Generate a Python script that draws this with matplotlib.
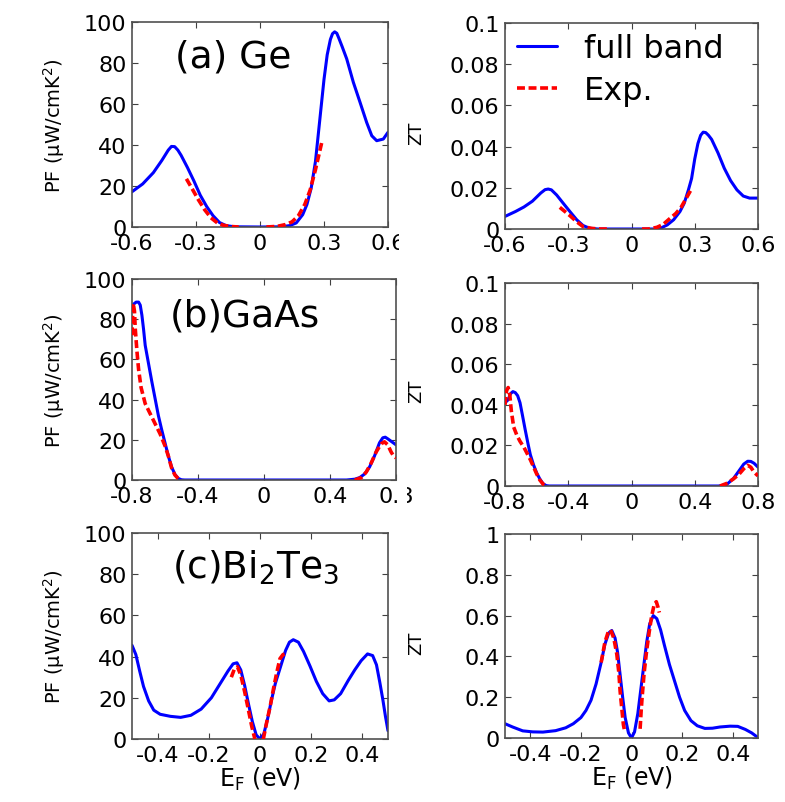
import numpy as np
import matplotlib
matplotlib.use("Agg")
import matplotlib.pyplot as plt
from matplotlib.patches import Rectangle

plt.rcParams['font.family'] = ['DejaVu Sans']
plt.rcParams['mathtext.default'] = 'regular'
plt.rcParams['axes.unicode_minus'] = False

# ---------------- data ----------------
# (a) Ge  PF
ge_pf_x = [-0.60, -0.55, -0.50, -0.46, -0.43, -0.415, -0.40, -0.385, -0.37, -0.34, -0.31, -0.28, -0.25, -0.22,
           -0.19, -0.16, -0.12, 0.00, 0.10, 0.14, 0.17, 0.20, 0.22, 0.24, 0.26, 0.28, 0.30, 0.315, 0.33,
           0.34, 0.35, 0.36, 0.37, 0.385, 0.4065, 0.4375, 0.469, 0.50, 0.524, 0.547, 0.578, 0.60]
ge_pf_y = [17.2, 21, 26.5, 32.5, 37.5, 39.3, 39.2, 37.5, 35, 29, 22.5, 15.5, 10, 5.5,
           2.2, 0.7, 0.1, 0, 0.1, 0.7, 2, 6, 11, 19, 32, 52, 72, 84, 91.5,
           94.3, 95.2, 94.5, 92, 88, 82, 70.6, 60.8, 51, 44.5, 42.1, 42.9, 46.2]
ge_pf_exp_p_x = [-0.345, -0.32, -0.29, -0.26, -0.23, -0.20, -0.17, -0.13, -0.10]
ge_pf_exp_p_y = [23.5, 19, 13.5, 8.5, 4.5, 2, 0.8, 0.2, 0]
ge_pf_exp_n_x = [0.03, 0.08, 0.12, 0.15, 0.18, 0.21, 0.235, 0.26, 0.29]
ge_pf_exp_n_y = [0, 0.3, 1.2, 2.5, 5.5, 11, 18, 28, 41.5]

# (a) Ge  ZT
ge_zt_x = [-0.60, -0.55, -0.51, -0.47, -0.43, -0.41, -0.395, -0.38, -0.355, -0.32, -0.29, -0.26, -0.23, -0.20,
           -0.16, 0.11, 0.14, 0.17, 0.20, 0.23, 0.25, 0.27, 0.285, 0.30, 0.315, 0.328, 0.34, 0.352, 0.365,
           0.38, 0.41, 0.44, 0.47, 0.50, 0.53, 0.56, 0.60]
ge_zt_y = [0.0061, 0.0085, 0.0107, 0.0135, 0.0175, 0.0191, 0.0194, 0.019, 0.0165, 0.012, 0.0082, 0.0045, 0.0017, 0.0004,
           0, 0, 0.0005, 0.002, 0.0045, 0.0085, 0.0125, 0.019, 0.0245, 0.034, 0.0415, 0.0455, 0.047, 0.0468, 0.0455,
           0.0435, 0.037, 0.0295, 0.0235, 0.019, 0.016, 0.015, 0.015]
ge_zt_exp_p_x = [-0.34, -0.31, -0.29, -0.26, -0.23, -0.19, -0.15, -0.10]
ge_zt_exp_p_y = [0.0105, 0.008, 0.0063, 0.0035, 0.0012, 0.0003, 0, 0]
ge_zt_exp_n_x = [0.05, 0.08, 0.12, 0.15, 0.18, 0.21, 0.235, 0.26, 0.285]
ge_zt_exp_n_y = [0, 0, 0.0008, 0.0022, 0.0049, 0.0075, 0.0105, 0.015, 0.0195]

# (b) GaAs PF
gaas_pf_x = [-0.80, -0.79, -0.775, -0.76, -0.75, -0.74, -0.73, -0.72, -0.70, -0.68, -0.66, -0.64, -0.62,
             -0.60, -0.58, -0.56, -0.54, -0.52, -0.50, -0.48, 0.50, 0.55, 0.58, 0.61, 0.64, 0.67, 0.70,
             0.72, 0.735, 0.75, 0.775, 0.80]
gaas_pf_y = [84, 87.5, 88.5, 88.5, 87, 82, 75, 67, 58, 49, 40.5, 32, 25,
             18.5, 12, 6.5, 2.8, 0.8, 0.1, 0, 0, 0.4, 1.2, 3, 6.5, 12, 18.5,
             21, 21.3, 20.5, 19, 17.5]
gaas_pf_exp_p_x = [-0.80, -0.797, -0.793, -0.785, -0.78, -0.77, -0.76, -0.745, -0.72, -0.69, -0.66, -0.63,
                   -0.60, -0.58, -0.56, -0.54, -0.52, -0.50]
gaas_pf_exp_p_y = [72, 80, 88, 84, 75, 64, 55, 46, 38, 33, 28, 23, 17, 12, 6, 2.5, 0.7, 0]
gaas_pf_exp_n_x = [0.55, 0.59, 0.62, 0.65, 0.68, 0.71, 0.73, 0.75, 0.77, 0.785, 0.80]
gaas_pf_exp_n_y = [0, 1.2, 4, 8.5, 14, 18, 19, 17.5, 14, 12, 11]

# (b) GaAs ZT
gaas_zt_x = [-0.80, -0.78, -0.765, -0.75, -0.735, -0.72, -0.705, -0.69, -0.673, -0.655, -0.64, -0.62, -0.60,
             -0.58, -0.56, -0.54, -0.52, 0.55, 0.60, 0.645, 0.68, 0.71, 0.735, 0.755, 0.775, 0.80]
gaas_zt_y = [0.041, 0.0425, 0.0455, 0.0465, 0.046, 0.0445, 0.041, 0.035, 0.028, 0.021, 0.0155, 0.0105, 0.0065,
             0.0035, 0.0012, 0.0002, 0, 0, 0.0006, 0.0037, 0.0075, 0.0108, 0.0122, 0.0121, 0.0112, 0.0093]
gaas_zt_exp_p_x = [-0.80, -0.79, -0.78, -0.77, -0.76, -0.745, -0.725, -0.705, -0.68, -0.66, -0.64, -0.62,
                   -0.60, -0.58, -0.56, -0.54]
gaas_zt_exp_p_y = [0.040, 0.047, 0.0485, 0.045, 0.037, 0.029, 0.025, 0.022, 0.019, 0.016, 0.013, 0.0095,
                   0.006, 0.003, 0.001, 0]
gaas_zt_exp_n_x = [0.56, 0.60, 0.645, 0.68, 0.71, 0.735, 0.755, 0.775, 0.80]
gaas_zt_exp_n_y = [0, 0.0012, 0.0035, 0.0058, 0.0085, 0.0102, 0.0092, 0.0068, 0.005]

# (c) Bi2Te3 PF
bite_pf_x = [-0.50, -0.485, -0.47, -0.455, -0.435, -0.415, -0.39, -0.35, -0.31, -0.27, -0.23, -0.19, -0.155,
             -0.125, -0.105, -0.09, -0.075, -0.06, -0.045, -0.03, -0.015, 0.0, 0.015, 0.03, 0.045, 0.06,
             0.08, 0.10, 0.115, 0.13, 0.15, 0.17, 0.195, 0.22, 0.245, 0.27, 0.29, 0.315, 0.345, 0.37,
             0.395, 0.42, 0.44, 0.455, 0.468, 0.48, 0.49, 0.50]
bite_pf_y = [45.5, 41, 33, 25.5, 18.5, 14, 12, 11, 10.5, 11.5, 14.5, 20, 27,
             33, 36.5, 37, 33.5, 26, 17, 8.5, 2, 0, 2.5, 10, 19, 27,
             35, 43, 47, 48.2, 47, 42.5, 35.5, 28, 22, 18.5, 19, 22, 28.5, 33.5,
             38, 41.3, 40.5, 36, 27.5, 19, 11, 4]
bite_pf_exp_p_x = [-0.112, -0.10, -0.088, -0.075, -0.06, -0.045, -0.032, -0.025, -0.02]
bite_pf_exp_p_y = [30, 34, 35, 31, 23, 14, 6, 2.5, 0]
bite_pf_exp_n_x = [0.013, 0.026, 0.04, 0.052, 0.065, 0.078, 0.09, 0.104]
bite_pf_exp_n_y = [0, 8, 16, 24, 32, 39, 41, 41.5]

# (c) Bi2Te3 ZT
bite_zt_x = [-0.50, -0.47, -0.43, -0.39, -0.35, -0.30, -0.26, -0.23, -0.20, -0.18, -0.16, -0.14, -0.12,
             -0.105, -0.09, -0.078, -0.065, -0.055, -0.045, -0.035, -0.025, -0.012, 0.0, 0.012, 0.025,
             0.035, 0.048, 0.06, 0.072, 0.086, 0.10, 0.115, 0.13, 0.15, 0.17, 0.19, 0.21, 0.235, 0.26,
             0.29, 0.32, 0.35, 0.39, 0.42, 0.45, 0.475, 0.50]
bite_zt_y = [0.07, 0.054, 0.035, 0.03, 0.029, 0.036, 0.05, 0.07, 0.1, 0.135, 0.185, 0.265, 0.37,
             0.46, 0.515, 0.527, 0.49, 0.42, 0.31, 0.2, 0.1, 0.025, 0, 0.03, 0.12,
             0.22, 0.35, 0.47, 0.56, 0.60, 0.585, 0.53, 0.455, 0.36, 0.28, 0.2, 0.135, 0.085, 0.06,
             0.047, 0.048, 0.054, 0.058, 0.057, 0.042, 0.025, 0.002]
bite_zt_exp_p_x = [-0.12, -0.105, -0.092, -0.083, -0.07, -0.058, -0.05, -0.045, -0.038, -0.032, -0.028]
bite_zt_exp_p_y = [0.37, 0.47, 0.52, 0.53, 0.49, 0.41, 0.32, 0.23, 0.14, 0.065, 0.04]
bite_zt_exp_n_x = [0.034, 0.038, 0.042, 0.05, 0.06, 0.07, 0.08, 0.09, 0.098, 0.105, 0.11]
bite_zt_exp_n_y = [0.045, 0.13, 0.2, 0.32, 0.43, 0.52, 0.6, 0.655, 0.668, 0.64, 0.615]

# ticks / labels
ge_xticks = [-0.6, -0.3, 0, 0.3, 0.6]
ge_xticklabels = ['-0.6', '-0.3', '0', '0.3', '0.6']
gaas_xticks = [-0.8, -0.4, 0, 0.4, 0.8]
gaas_xticklabels = ['-0.8', '-0.4', '0', '0.4', '0.8']
bite_xticks = [-0.4, -0.2, 0, 0.2, 0.4]
bite_xticklabels = ['-0.4', '-0.2', '0', '0.2', '0.4']
pf_yticks = [0, 20, 40, 60, 80, 100]
pf_yticklabels = ['0', '20', '40', '60', '80', '100']
zt_small_yticks = [0, 0.02, 0.04, 0.06, 0.08, 0.1]
zt_small_yticklabels = ['0', '0.02', '0.04', '0.06', '0.08', '0.1']
zt_big_yticks = [0, 0.2, 0.4, 0.6, 0.8, 1]
zt_big_yticklabels = ['0', '0.2', '0.4', '0.6', '0.8', '1']

series_labels = ['full band', 'Exp.']
panel_titles = ['(a) Ge', '(b)GaAs', '(c)Bi$_2$Te$_3$']

# ---------------- figure ----------------
W, H = 785, 803
fig = plt.figure(figsize=(W / 100, H / 100), dpi=100)


def rect(l, t, r, b):
    return [l / W, 1 - b / H, (r - l) / W, (b - t) / H]


BLUE = '#0000ff'
RED = '#ff0000'
DASH = (0, (2.2, 1.0))


def style(ax, xlim, ylim, xt, xtl, yt, ytl):
    ax.set_xlim(*xlim)
    ax.set_ylim(*ylim)
    ax.set_xticks(xt)
    ax.set_xticklabels(xtl)
    ax.set_yticks(yt)
    ax.set_yticklabels(ytl)
    ax.tick_params(direction='in', top=True, right=True, length=4, width=0.8,
                   labelsize=16, pad=4, color='#404040')
    for s in ax.spines.values():
        s.set_color('#505050')
        s.set_linewidth(1.2)


def draw(ax, x, y, xp, yp, xn, yn):
    l1, = ax.plot(x, y, color=BLUE, lw=2.2, zorder=2, solid_capstyle='round', solid_joinstyle='round')
    l2, = ax.plot(xp, yp, color=RED, lw=2.6, ls=DASH, zorder=3)
    ax.plot(xn, yn, color=RED, lw=2.6, ls=DASH, zorder=3)
    return l1, l2


pf_label = 'PF (μW/cmK$^{2}$)'

# (a)
ax1 = fig.add_axes(rect(132, 23, 388, 228))
draw(ax1, ge_pf_x, ge_pf_y, ge_pf_exp_p_x, ge_pf_exp_p_y, ge_pf_exp_n_x, ge_pf_exp_n_y)
style(ax1, (-0.6, 0.6), (0, 100), ge_xticks, ge_xticklabels, pf_yticks, pf_yticklabels)
ax1.set_ylabel(pf_label, fontsize=14)
ax1.yaxis.set_label_coords(-0.254, 0.5)
ax1.text(0.168, 0.834, panel_titles[0], transform=ax1.transAxes, fontsize=27, ha='left', va='center')

ax2 = fig.add_axes(rect(505, 24, 758, 230))
h1, h2 = draw(ax2, ge_zt_x, ge_zt_y, ge_zt_exp_p_x, ge_zt_exp_p_y, ge_zt_exp_n_x, ge_zt_exp_n_y)
style(ax2, (-0.6, 0.6), (0, 0.1), ge_xticks, ge_xticklabels, zt_small_yticks, zt_small_yticklabels)
ax2.set_ylabel('ZT', fontsize=13)
ax2.yaxis.set_label_coords(-0.316, 0.47)
leg = ax2.legend([h1, h2], series_labels, loc='upper left', bbox_to_anchor=(0.035, 0.965),
                 frameon=False, fontsize=23, handlelength=1.25, handletextpad=0.85,
                 labelspacing=0.33, borderaxespad=0.0, borderpad=0.1)

# (b)
ax3 = fig.add_axes(rect(132, 280, 396, 481))
draw(ax3, gaas_pf_x, gaas_pf_y, gaas_pf_exp_p_x, gaas_pf_exp_p_y, gaas_pf_exp_n_x, gaas_pf_exp_n_y)
style(ax3, (-0.8, 0.8), (0, 100), gaas_xticks, gaas_xticklabels, pf_yticks, pf_yticklabels)
ax3.set_ylabel(pf_label, fontsize=14)
ax3.yaxis.set_label_coords(-0.246, 0.5)
ax3.text(0.144, 0.816, panel_titles[1], transform=ax3.transAxes, fontsize=27, ha='left', va='center')

ax4 = fig.add_axes(rect(505, 284, 758, 487))
draw(ax4, gaas_zt_x, gaas_zt_y, gaas_zt_exp_p_x, gaas_zt_exp_p_y, gaas_zt_exp_n_x, gaas_zt_exp_n_y)
style(ax4, (-0.8, 0.8), (0, 0.1), gaas_xticks, gaas_xticklabels, zt_small_yticks, zt_small_yticklabels)
ax4.set_ylabel('ZT', fontsize=13)
ax4.yaxis.set_label_coords(-0.316, 0.47)

# (c)
ax5 = fig.add_axes(rect(132, 534, 388, 740))
draw(ax5, bite_pf_x, bite_pf_y, bite_pf_exp_p_x, bite_pf_exp_p_y, bite_pf_exp_n_x, bite_pf_exp_n_y)
style(ax5, (-0.5, 0.5), (0, 100), bite_xticks, bite_xticklabels, pf_yticks, pf_yticklabels)
ax5.set_ylabel(pf_label, fontsize=14)
ax5.yaxis.set_label_coords(-0.254, 0.5)
ax5.set_xlabel('E$_F$ (eV)', fontsize=17)
ax5.xaxis.set_label_coords(0.5, -0.125)
ax5.text(0.156, 0.84, panel_titles[2], transform=ax5.transAxes, fontsize=27, ha='left', va='center')

ax6 = fig.add_axes(rect(505, 535, 758, 739))
draw(ax6, bite_zt_x, bite_zt_y, bite_zt_exp_p_x, bite_zt_exp_p_y, bite_zt_exp_n_x, bite_zt_exp_n_y)
style(ax6, (-0.5, 0.5), (0, 1), bite_xticks, bite_xticklabels, zt_big_yticks, zt_big_yticklabels)
ax6.set_ylabel('ZT', fontsize=13)
ax6.yaxis.set_label_coords(-0.316, 0.47)
ax6.set_xlabel('E$_F$ (eV)', fontsize=17)
ax6.xaxis.set_label_coords(0.5, -0.125)

# crop strip between the two columns (as in the composed original figure)
fig.patches.append(Rectangle((399 / W, 0), 8 / W, 1, transform=fig.transFigure,
                             facecolor='white', edgecolor='none', zorder=10))

fig.savefig('out.png', dpi=100)
